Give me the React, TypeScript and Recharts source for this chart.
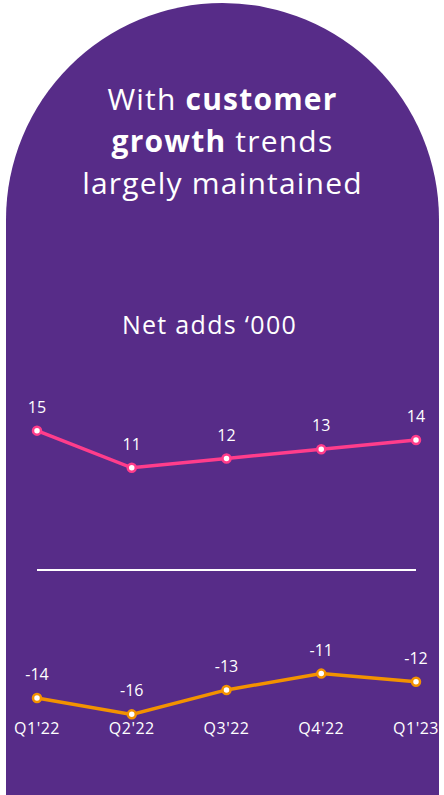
import { LabelList, Line, LineChart, ReferenceLine, XAxis, YAxis } from "recharts";

const quarters = ["Q1'22", "Q2'22", "Q3'22", "Q4'22", "Q1'23"];
const upperAdds = [15, 11, 12, 13, 14];
const lowerAdds = [-14, -16, -13, -11, -12];

const rows = quarters.map((q, i) => ({ q, upper: upperAdds[i], lower: lowerAdds[i] }));

const PURPLE = "#572c88";
const PINK = "#ff3d8b";
const ORANGE = "#f39200";
const FONT = "'Open Sans', sans-serif";

export default function App() {
  return (
    <div style={{ position: "absolute", top: 0, left: 0, width: 444, height: 795, fontFamily: FONT }}>
      <div
        style={{
          position: "absolute",
          left: 6,
          top: 3,
          width: 433,
          height: 792,
          background: PURPLE,
          borderRadius: "216.5px 216.5px 0 0",
        }}
      />
      <div
        style={{
          position: "absolute",
          top: 78,
          left: 6,
          width: 433,
          textAlign: "center",
          color: "#fff",
          fontSize: 30,
          letterSpacing: 1.2,
          lineHeight: "42px",
        }}
      >
        With <b>customer</b>
        <br />
        <b>growth</b> trends
        <br />
        largely maintained
      </div>
      <div
        style={{
          position: "absolute",
          top: 308,
          left: 0,
          width: 419,
          textAlign: "center",
          color: "#fff",
          fontSize: 25,
          letterSpacing: 1.3,
          lineHeight: "32px",
        }}
      >
        Net adds ‘000
      </div>
      <div style={{ position: "absolute", top: 360, left: 0 }}>
        <LineChart width={444} height={435} data={rows} margin={{ top: 20, right: 28, left: 37, bottom: 42 }}>
          <XAxis
            dataKey="q"
            axisLine={false}
            tickLine={false}
            tickSize={0}
            tickMargin={0}
            height={30}
            interval={0}
            tick={{ fill: "#fff", fontSize: 16, fontFamily: FONT, letterSpacing: 0.5 }}
          />
          <YAxis yAxisId="up" hide type="number" domain={[-16.47, 20.45]} />
          <YAxis yAxisId="down" hide type="number" domain={[-17.06, 25.03]} />
          <ReferenceLine yAxisId="up" y={0} stroke="#fff" strokeWidth={2} />
          <Line
            yAxisId="up"
            dataKey="upper"
            stroke={PINK}
            strokeWidth={3.5}
            dot={{ r: 4, fill: "#fff", stroke: PINK, strokeWidth: 2.5 }}
            isAnimationActive={false}
          >
            <LabelList dataKey="upper" position="top" offset={18} fill="#fff" fontSize={16} fontFamily={FONT} />
          </Line>
          <Line
            yAxisId="down"
            dataKey="lower"
            stroke={ORANGE}
            strokeWidth={3.5}
            dot={{ r: 4, fill: "#fff", stroke: ORANGE, strokeWidth: 2.5 }}
            isAnimationActive={false}
          >
            <LabelList dataKey="lower" position="top" offset={18} fill="#fff" fontSize={16} fontFamily={FONT} />
          </Line>
        </LineChart>
      </div>
    </div>
  );
}
